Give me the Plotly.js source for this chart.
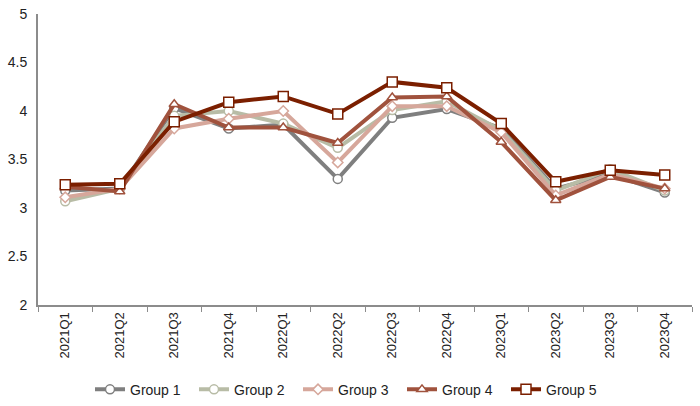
<!DOCTYPE html>
<html><head><meta charset="utf-8">
<script src="https://cdn.plot.ly/plotly-3.0.1.min.js"></script>
<style>body{margin:0;background:#fff}#c{width:700px;height:406px}</style>
</head><body><div id="c"></div>
<script>
const categories = ["2021Q1","2021Q2","2021Q3","2021Q4","2022Q1","2022Q2","2022Q3","2022Q4","2023Q1","2023Q2","2023Q3","2023Q4"];
const group1 = [3.18,3.20,4.03,3.82,3.86,3.30,3.93,4.02,3.82,3.20,3.35,3.16];
const group2 = [3.07,3.20,3.95,4.00,3.87,3.62,4.01,4.10,3.80,3.18,3.40,3.18];
const group3 = [3.11,3.20,3.82,3.92,4.00,3.47,4.05,4.05,3.78,3.13,3.35,3.20];
const group4 = [3.22,3.17,4.07,3.83,3.83,3.67,4.14,4.15,3.68,3.08,3.32,3.20];
const group5 = [3.24,3.25,3.89,4.09,4.15,3.97,4.30,4.24,3.87,3.27,3.39,3.34];
const names = ["Group 1","Group 2","Group 3","Group 4","Group 5"];
const series = [group1,group2,group3,group4,group5];
const colors = ["#7f7f7f","#b8bca6","#d6a79b","#a0523d","#7b1f00"];
const symbols = ["circle","circle","diamond","triangle-up","square"];
const sizes = [9,9,8,9,10];
const traces = series.map((s,i)=>({
  x: categories, y: s, name: names[i], type:"scatter", mode:"lines+markers",
  line:{color:colors[i], width:4},
  marker:{symbol:symbols[i], size:sizes[i], color:"#fff", line:{color:colors[i], width:1.5}}
}));
const layout = {
  width:700, height:406,
  margin:{l:38,r:8,t:14,b:101, autoexpand:false},
  paper_bgcolor:"#fff", plot_bgcolor:"#fff",
  font:{family:"Liberation Sans, Arial, sans-serif", color:"#222", size:14},
  showlegend:true,
  legend:{orientation:"h", x:0.5, xanchor:"center", xref:"container", yref:"container", y:0.04, yanchor:"middle", font:{size:14},
    entrywidth:59, entrywidthmode:"pixels", tracegroupgap:0},
  xaxis:{type:"category", range:[-0.5,11.5], showline:true, linecolor:"#8c8c8c", linewidth:2, automargin:false,
    ticks:"outside", tickson:"boundaries", ticklen:5, tickcolor:"#8c8c8c", tickangle:-90,
    showgrid:false, zeroline:false, tickfont:{size:13}},
  yaxis:{range:[2,5], dtick:0.5, showline:true, linecolor:"#8c8c8c", linewidth:2, ticks:"", automargin:false,
    showgrid:false, zeroline:false, tickfont:{size:14}, ticklabelstandoff:6}
};
Plotly.newPlot("c", traces, layout, {displayModeBar:false, staticPlot:true});
</script></body></html>
